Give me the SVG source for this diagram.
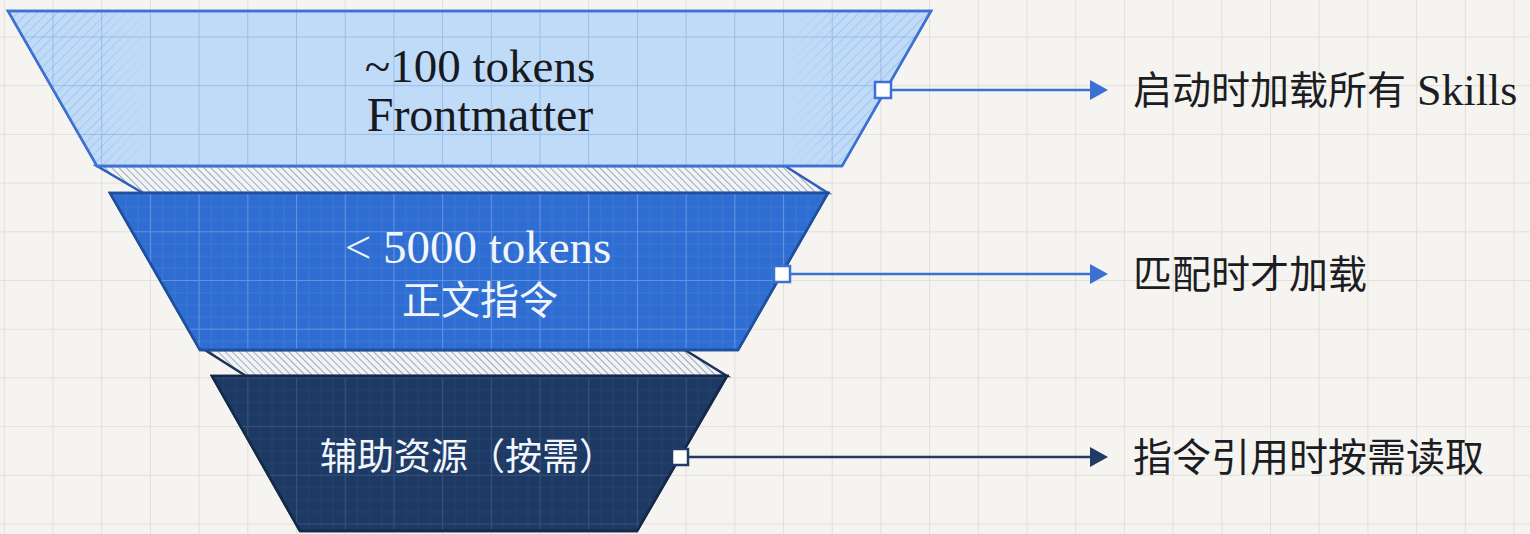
<svg xmlns="http://www.w3.org/2000/svg" width="1530" height="534" viewBox="0 0 1530 534">
  <style>
    .l1 { fill: #c0dbf7; stroke: #3d72d2; stroke-width: 2.5; stroke-linejoin: miter; }
    .l2 { fill: #2e6dd1; stroke: #1f4f9e; stroke-width: 2.5; }
    .l3 { fill: #1d3a65; stroke: #15294a; stroke-width: 2.5; }
    .band1 { fill: url(#bandHatch); stroke: #2d5fb8; stroke-width: 2.5; }
    .band2 { fill: url(#bandHatch); stroke: #1c335a; stroke-width: 2.5; }
    .serif { font-family: "Liberation Serif", "Noto Sans CJK SC", serif; }
    .cjk { font-family: "Liberation Serif", "Noto Sans CJK SC", sans-serif; }
    .dark { fill: #16191f; }
    .light { fill: #f2f6fc; }
    .lbl { font-size: 39px; fill: #1b1d22; dominant-baseline: central; }
    .conn-blue { stroke: #3a71d3; stroke-width: 2.5; fill: none; }
    .conn-navy { stroke: #1f3b66; stroke-width: 2.5; fill: none; }
    .sq-blue { fill: #ffffff; stroke: #3a71d3; stroke-width: 2.5; }
    .sq-navy { fill: #ffffff; stroke: #1f3b66; stroke-width: 2.5; }
  </style>
  <defs>
    <pattern id="bgGrid" patternUnits="userSpaceOnUse" width="48.7" height="48.7" x="3.8" y="36.5">
      <path d="M0 0.5 H48.7 M0.5 0 V48.7" stroke="#e3e0da" stroke-width="1" fill="none"/>
    </pattern>
    <pattern id="grid1" patternUnits="userSpaceOnUse" width="48.7" height="48.7" x="3.8" y="36.5">
      <path d="M0 0.5 H48.7 M0.5 0 V48.7" stroke="#6f98d6" stroke-opacity="0.45" stroke-width="1" fill="none"/>
    </pattern>
    <pattern id="grid2" patternUnits="userSpaceOnUse" width="48.7" height="48.7" x="3.8" y="36.5">
      <path d="M0 12.7 H48.7 M0 24.85 H48.7 M0 37 H48.7 M12.7 0 V48.7 M24.85 0 V48.7 M37 0 V48.7" stroke="#ffffff" stroke-opacity="0.07" stroke-width="1" fill="none"/>
      <path d="M0 0.5 H48.7 M0.5 0 V48.7" stroke="#ffffff" stroke-opacity="0.25" stroke-width="1.2" fill="none"/>
    </pattern>
    <pattern id="grid3" patternUnits="userSpaceOnUse" width="48.7" height="48.7" x="3.8" y="36.5">
      <path d="M0 12.7 H48.7 M0 24.85 H48.7 M0 37 H48.7 M12.7 0 V48.7 M24.85 0 V48.7 M37 0 V48.7" stroke="#ffffff" stroke-opacity="0.04" stroke-width="1" fill="none"/>
      <path d="M0 0.5 H48.7 M0.5 0 V48.7" stroke="#ffffff" stroke-opacity="0.12" stroke-width="1.2" fill="none"/>
    </pattern>
    <pattern id="sideHatch" patternUnits="userSpaceOnUse" width="7" height="7" patternTransform="rotate(45)">
      <line x1="0" y1="0" x2="0" y2="7" stroke="#5f8fd6" stroke-opacity="0.5" stroke-width="1.2"/>
    </pattern>
    <pattern id="bandHatch" patternUnits="userSpaceOnUse" width="5" height="5" patternTransform="rotate(-45)">
      <rect width="5" height="5" fill="#f1f3f6"/>
      <line x1="0" y1="0" x2="0" y2="5" stroke="#7f8a9b" stroke-width="1.4"/>
    </pattern>
    <linearGradient id="sideFade" gradientUnits="userSpaceOnUse" x1="8" y1="0" x2="931" y2="0">
      <stop offset="0" stop-color="#fff" stop-opacity="1"/>
      <stop offset="0.1" stop-color="#fff" stop-opacity="0.9"/>
      <stop offset="0.155" stop-color="#fff" stop-opacity="0"/>
      <stop offset="0.84" stop-color="#fff" stop-opacity="0"/>
      <stop offset="0.9" stop-color="#fff" stop-opacity="0.9"/>
      <stop offset="1" stop-color="#fff" stop-opacity="1"/>
    </linearGradient>
    <mask id="sideMask" maskUnits="userSpaceOnUse" x="0" y="0" width="1530" height="534">
      <rect x="0" y="0" width="1530" height="534" fill="url(#sideFade)"/>
    </mask>
    <marker id="arrowBlue" viewBox="0 0 18 20" refX="2" refY="10" markerWidth="18" markerHeight="20" markerUnits="userSpaceOnUse" orient="auto">
      <path d="M0 0 L18 10 L0 20 Z" fill="#3a71d3"/>
    </marker>
    <marker id="arrowNavy" viewBox="0 0 18 20" refX="2" refY="10" markerWidth="18" markerHeight="20" markerUnits="userSpaceOnUse" orient="auto">
      <path d="M0 0 L18 10 L0 20 Z" fill="#1f3b66"/>
    </marker>
  </defs>

  <rect id="background" x="0" y="0" width="1530" height="534" fill="#f6f4f0"/>
  <rect x="0" y="0" width="1530" height="534" fill="url(#bgGrid)"/>

  <g id="band-1-2">
    <polygon class="band1" points="97,166 785,166 828,193 143,193"/>
  </g>
  <g id="band-2-3">
    <polygon class="band2" points="205,350 685,350 727,376 246,376"/>
  </g>

  <g id="layer-1">
    <polygon class="l1" points="8,11 931,11 842,166 97,166"/>
    <polygon points="8,11 931,11 842,166 97,166" fill="url(#sideHatch)" mask="url(#sideMask)"/>
    <polygon points="8,11 931,11 842,166 97,166" fill="url(#grid1)"/>
    <polygon points="8,11 931,11 842,166 97,166" fill="none" stroke="#3d72d2" stroke-width="2.5"/>
    <text class="serif dark" x="480" y="82" font-size="47" text-anchor="middle">~100 tokens</text>
    <text class="serif dark" x="480" y="131" font-size="48" text-anchor="middle">Frontmatter</text>
  </g>

  <g id="layer-2">
    <polygon class="l2" points="110,193 828,193 738,350 200,350"/>
    <polygon points="110,193 828,193 738,350 200,350" fill="url(#grid2)"/>
    <polygon points="110,193 828,193 738,350 200,350" fill="none" stroke="#1f4f9e" stroke-width="2.5"/>
    <text class="serif light" x="478" y="263" font-size="47" text-anchor="middle">&lt; 5000 tokens</text>
    <text class="cjk light" x="480" y="300" font-size="39" text-anchor="middle" dominant-baseline="central">正文指令</text>
  </g>

  <g id="layer-3">
    <polygon class="l3" points="212,376 727,376 637,531 300,531"/>
    <polygon points="212,376 727,376 637,531 300,531" fill="url(#grid3)"/>
    <polygon points="212,376 727,376 637,531 300,531" fill="none" stroke="#15294a" stroke-width="2.5"/>
    <text class="cjk light" x="468" y="457" font-size="37" text-anchor="middle" dominant-baseline="central">辅助资源（按需）</text>
  </g>

  <g id="connectors">
    <line class="conn-blue" x1="891" y1="90" x2="1092" y2="90" marker-end="url(#arrowBlue)"/>
    <rect class="sq-blue" x="875" y="82" width="16" height="16"/>
    <line class="conn-blue" x1="790" y1="274" x2="1092" y2="274" marker-end="url(#arrowBlue)"/>
    <rect class="sq-blue" x="774" y="266" width="16" height="16"/>
    <line class="conn-navy" x1="688" y1="457" x2="1092" y2="457" marker-end="url(#arrowNavy)"/>
    <rect class="sq-navy" x="672" y="449" width="16" height="16"/>
  </g>

  <g id="label-1">
    <text class="cjk lbl" x="1133" y="90">启动时加载所有<tspan font-size="44"> Skills</tspan></text>
  </g>
  <g id="label-2">
    <text class="cjk lbl" x="1133" y="274">匹配时才加载</text>
  </g>
  <g id="label-3">
    <text class="cjk lbl" x="1133" y="457">指令引用时按需读取</text>
  </g>
</svg>
